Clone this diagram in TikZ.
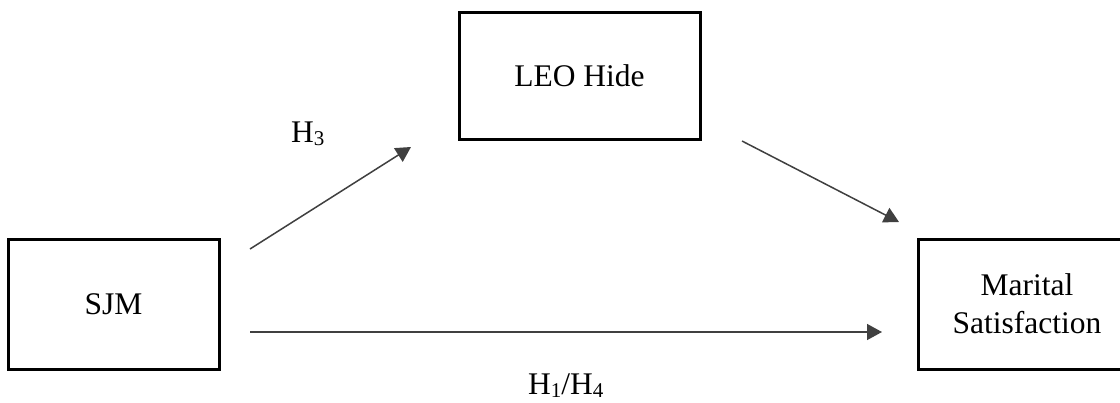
\documentclass[tikz,border=0pt]{standalone}
\usepackage{fontspec}
\setmainfont{Liberation Serif}
\usetikzlibrary{arrows.meta}
\definecolor{arrowgray}{HTML}{404040}
% small index set just below the baseline
\newcommand{\hsub}[1]{\raisebox{-0.1em}{\fontsize{21}{21}\selectfont #1}}
\begin{document}
\begin{tikzpicture}[x=1pt,y=-1pt,
  varbox/.style={draw=black,line width=3pt,inner sep=0pt,align=center,
    font=\fontsize{31.5}{38}\selectfont},
  path/.style={draw=arrowgray,line width=1.5pt,
    -{Triangle[length=15pt,width=16pt]}},
  hyp/.style={inner sep=0pt,anchor=base west,font=\fontsize{31.5}{38}\selectfont}]
  \clip (0,0) rectangle (1120,402);
  \fill[white] (0,0) rectangle (1120,402);

  % variables
  \node[varbox,minimum width=211pt,minimum height=130pt] (sjm) at (113.5,304) {SJM};
  \node[varbox,minimum width=241pt,minimum height=127pt] (leo) at (579.5,75.5) {LEO Hide};
  \node[varbox,minimum width=218pt,minimum height=130pt] (ms) at (1027,304) {Marital\\Satisfaction};

  % path end points
  \coordinate (p1s) at (250,249);
  \coordinate (p1e) at (411,147);
  \coordinate (p2s) at (742,141);
  \coordinate (p2e) at (899,222);
  \coordinate (p3s) at (250,332);
  \coordinate (p3e) at (882,332);

  \draw[path] (p1s) -- (p1e);
  \draw[path] (p2s) -- (p2e);
  \draw[path] (p3s) -- (p3e);

  % hypothesis labels
  \node[hyp] (h3) at (291,142) {H\hsub{3}};
  \node[hyp] (h14) at (528,394) {H\hsub{1}/H\hsub{4}};
\end{tikzpicture}
\end{document}
